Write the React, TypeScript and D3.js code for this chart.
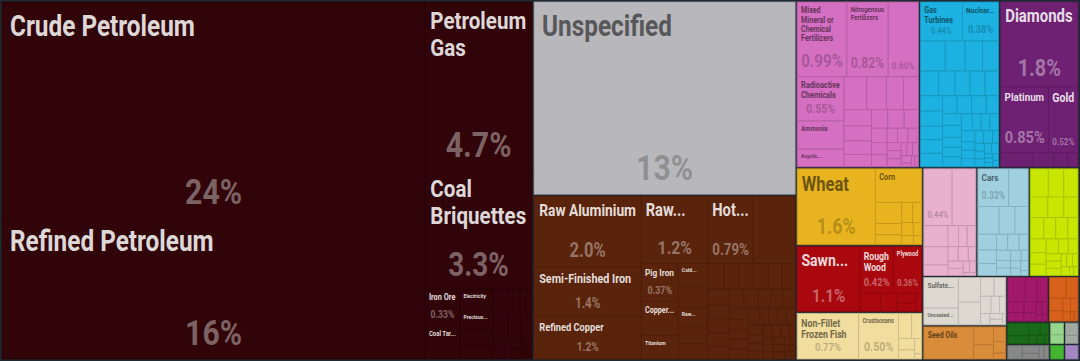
import React, { useMemo } from 'react';
import * as d3 from 'd3';

// ---------- DATA (share of total exports, %) ----------
const sectorNames = [
  'Mineral Products', 'Unspecified', 'Metals', 'Chemical Products', 'Machines', 'Precious Metals',
  'Vegetable Products', 'Wood Products', 'Animal Products', 'Plastics and Rubbers', 'Transportation',
  'Textiles', 'Paper Goods', 'Animal and Vegetable Bi-Products', 'Foodstuffs', 'Stone And Glass',
  'Instruments', 'Miscellaneous', 'Arms and Ammunition', 'Footwear and Headwear', 'Animal Hides', 'Art and Antiques',
];

const mineralNames = ['Crude Petroleum', 'Refined Petroleum', 'Petroleum Gas', 'Coal Briquettes', 'Iron Ore', 'Coal Tar...', 'Electricity', 'Precious...'];
const mineralShares = [23.8, 15.6, 4.7, 3.3, 0.33, 0.3, 0.18, 0.17];
const mineralOther = [0.14, 0.12, 0.11, 0.1, 0.09, 0.08, 0.07, 0.06, 0.05, 0.04, 0.03, 0.03, 0.02, 0.02, 0.01];

const unspecifiedNames = ['Unspecified'];
const unspecifiedShares = [13.2];
const unspecifiedOther: number[] = [];

const metalNames = ['Raw Aluminium', 'Semi-Finished Iron', 'Refined Copper', 'Raw...', 'Hot...', 'Pig Iron', 'Copper...', 'Titanium', 'Cold...', 'Flat Flat...', 'Raw...'];
const metalShares = [2.0, 1.4, 1.2, 1.19, 0.79, 0.37, 0.33, 0.23, 0.18, 0.16, 0.15];
const metalOther = [0.75, 0.13, 0.12, 0.11, 0.1, 0.1, 0.1, 0.09, 0.09, 0.09, 0.08, 0.08, 0.08, 0.07, 0.07, 0.07, 0.06, 0.06, 0.06, 0.06, 0.05, 0.05, 0.05, 0.05, 0.05, 0.04, 0.04, 0.04, 0.04, 0.04, 0.03, 0.03, 0.03, 0.03, 0.03, 0.03, 0.02, 0.02, 0.02, 0.02, 0.02, 0.02, 0.02, 0.01, 0.01, 0.01, 0.01, 0.01, 0.01];

const chemicalNames = ['Mixed Mineral or Chemical Fertilizers', 'Nitrogenous Fertilizers', 'Potassic Fertilizers', 'Radioactive Chemicals', 'Ammonia', 'Acyclic...'];
const chemicalShares = [0.99, 0.82, 0.6, 0.55, 0.35, 0.22];
const chemicalOther = [0.2, 0.17, 0.15, 0.13, 0.12, 0.11, 0.1, 0.09, 0.08, 0.08, 0.07, 0.06, 0.05, 0.05, 0.04, 0.04, 0.04, 0.03, 0.03, 0.03, 0.02, 0.02, 0.02, 0.02, 0.01, 0.01, 0.01];

const machineNames = ['Gas Turbines', 'Nuclear...'];
const machineShares = [0.44, 0.38];
const machineOther = [0.2, 0.16, 0.14, 0.13, 0.12, 0.11, 0.1, 0.1, 0.09, 0.09, 0.09, 0.08, 0.08, 0.08, 0.07, 0.07, 0.07, 0.06, 0.06, 0.06, 0.05, 0.05, 0.05, 0.05, 0.04, 0.04, 0.04, 0.04, 0.03, 0.03, 0.03, 0.03, 0.03, 0.02, 0.02, 0.02, 0.02, 0.02, 0.02, 0.01, 0.01, 0.01, 0.01, 0.01];

const preciousNames = ['Diamonds', 'Platinum', 'Gold'];
const preciousShares = [1.76, 0.85, 0.52];
const preciousOther = [0.12, 0.08, 0.05, 0.04];

const vegetableNames = ['Wheat', 'Corn'];
const vegetableShares = [1.6, 0.42];
const vegetableOther = [0.15, 0.08, 0.07, 0.06, 0.05, 0.04, 0.03, 0.03, 0.02];

const woodNames = ['Sawn...', 'Rough Wood', 'Plywood'];
const woodShares = [1.1, 0.42, 0.36];
const woodOther = [0.1, 0.08, 0.05, 0.04, 0.03];

const animalNames = ['Non-Fillet Frozen Fish', 'Crustaceans'];
const animalShares = [0.77, 0.5];
const animalOther = [0.09, 0.07, 0.05, 0.04, 0.03, 0.01];

const plasticNames = ['Synthetic Rubber'];
const plasticShares = [0.44];
const plasticOther = [0.37, 0.14, 0.12, 0.07, 0.06, 0.05, 0.05, 0.04, 0.04, 0.03, 0.03, 0.03, 0.02, 0.02, 0.01];

const transportNames = ['Cars'];
const transportShares = [0.32];
const transportOther = [0.2, 0.16, 0.12, 0.1, 0.08, 0.07, 0.06, 0.05, 0.05, 0.04, 0.04, 0.03, 0.03, 0.03, 0.02, 0.02, 0.02, 0.02, 0.01];

const textileNames: string[] = [];
const textileShares: number[] = [];
const textileOther = [0.14, 0.12, 0.11, 0.1, 0.09, 0.08, 0.08, 0.07, 0.07, 0.06, 0.06, 0.05, 0.05, 0.05, 0.04, 0.04, 0.03, 0.03, 0.03, 0.02, 0.02, 0.02, 0.02, 0.01, 0.01];

const paperNames = ['Sulfate...', 'Uncoated...'];
const paperShares = [0.29, 0.16];
const paperOther = [0.15, 0.14, 0.07, 0.06, 0.05, 0.04, 0.03, 0.03, 0.02, 0.02, 0.01];

const biProductNames = ['Seed Oils'];
const biProductShares = [0.45];
const biProductOther = [0.1, 0.08, 0.05, 0.04, 0.02];

const foodOther = [0.12, 0.08, 0.07, 0.05, 0.04, 0.04, 0.03, 0.02, 0.02, 0.01, 0.01];
const stoneOther = [0.1, 0.07, 0.05, 0.04, 0.03, 0.03, 0.02, 0.01, 0.01];
const instrumentOther = [0.08, 0.05, 0.04, 0.03, 0.02, 0.02, 0.01];
const miscOther = [0.06, 0.04, 0.03, 0.02, 0.02];
const armsOther = [0.05, 0.036];
const footwearOther = [0.05, 0.033];
const hidesOther = [0.06];
const artOther = [0.058];

const sectorItems: [string[], number[], number[]][] = [
  [mineralNames, mineralShares, mineralOther],
  [unspecifiedNames, unspecifiedShares, unspecifiedOther],
  [metalNames, metalShares, metalOther],
  [chemicalNames, chemicalShares, chemicalOther],
  [machineNames, machineShares, machineOther],
  [preciousNames, preciousShares, preciousOther],
  [vegetableNames, vegetableShares, vegetableOther],
  [woodNames, woodShares, woodOther],
  [animalNames, animalShares, animalOther],
  [plasticNames, plasticShares, plasticOther],
  [transportNames, transportShares, transportOther],
  [textileNames, textileShares, textileOther],
  [paperNames, paperShares, paperOther],
  [biProductNames, biProductShares, biProductOther],
  [[], [], foodOther],
  [[], [], stoneOther],
  [[], [], instrumentOther],
  [[], [], miscOther],
  [[], [], armsOther],
  [[], [], footwearOther],
  [[], [], hidesOther],
  [[], [], artOther],
];

// ---------- STYLES ----------
const SECTOR_COLORS: Record<string, string> = {
  'Mineral Products': '#300408',
  'Unspecified': '#b8b8bc',
  'Metals': '#5a230b',
  'Chemical Products': '#d56fc1',
  'Machines': '#1cb1e0',
  'Precious Metals': '#6e2172',
  'Vegetable Products': '#e7b420',
  'Wood Products': '#a8080e',
  'Animal Products': '#f1dd9d',
  'Plastics and Rubbers': '#e8b1cd',
  'Transportation': '#a0d0e0',
  'Textiles': '#c8e700',
  'Paper Goods': '#ddd9d1',
  'Animal and Vegetable Bi-Products': '#d98c3a',
  'Foodstuffs': '#a2196a',
  'Stone And Glass': '#d8611b',
  'Instruments': '#196a19',
  'Miscellaneous': '#888888',
  'Arms and Ammunition': '#95d68a',
  'Footwear and Headwear': '#a0aaa0',
  'Animal Hides': '#43b532',
  'Art and Antiques': '#a287c2',
};

const W = 1080;
const H = 361;
const BG = '#1f2932';
const FONT = 'Roboto, "Noto Sans", sans-serif';
const SX = 0.84; // horizontal condensing of the label font
const MIN_SINGLE = 6;
const MIN_MULTI = 7;

let _ctx: CanvasRenderingContext2D | null = null;
function measure(text: string, fs: number): number {
  if (!_ctx) _ctx = document.createElement('canvas').getContext('2d');
  if (!_ctx) return text.length * fs * 0.5 * SX;
  _ctx.font = `700 ${fs}px ${FONT}`;
  return _ctx.measureText(text).width * SX;
}

function wrap(name: string, fs: number, maxW: number): string[] | null {
  const words = name.split(/\s+/);
  const lines: string[] = [];
  let cur = '';
  for (const w of words) {
    if (measure(w, fs) > maxW) return null;
    const t = cur ? cur + ' ' + w : w;
    if (measure(t, fs) <= maxW) cur = t;
    else { lines.push(cur); cur = w; }
  }
  if (cur) lines.push(cur);
  return lines;
}

function fmtShare(v: number): string {
  if (v >= 10) return `${Math.round(v)}%`;
  if (v >= 1) return `${v.toFixed(1)}%`;
  return `${v.toFixed(2)}%`;
}

function isLight(c: string): boolean {
  const r = d3.rgb(c);
  return 0.299 * r.r + 0.587 * r.g + 0.114 * r.b > 128;
}

type Label = {
  pad: number;
  title: { fs: number; lines: string[] } | null;
  pct: { fs: number; text: string; pb: number } | null;
};

function fitTitle(name: string, w: number, h: number, pad: number) {
  const maxW = w - 2 * pad;
  const maxH = h * 0.5;
  const cap = Math.min(29, Math.max(MIN_SINGLE, h * 0.26));
  let single: { fs: number; lines: string[] } | null = null;
  for (let fs = cap; fs >= MIN_SINGLE; fs -= 0.25) {
    if (measure(name, fs) <= maxW && fs * 1.1 <= Math.max(maxH, 11)) { single = { fs, lines: [name] }; break; }
  }
  let multi: { fs: number; lines: string[] } | null = null;
  for (let fs = cap; fs >= MIN_MULTI; fs -= 0.25) {
    const lines = wrap(name, fs, maxW);
    if (lines && lines.length > 1 && lines.length * fs * 1.1 <= maxH) { multi = { fs, lines }; break; }
  }
  if (single && (!multi || multi.fs <= single.fs * 1.2)) return single;
  return multi;
}

function layoutLabel(name: string, share: number, w: number, h: number): Label {
  const pad = Math.max(3, Math.min(8, w * 0.02 + 3));
  let pct: Label['pct'] = null;
  if (!name) return { pad, title: null, pct };
  const title = fitTitle(name, w, h, pad);
  if (h < 35.5) return { pad, title, pct };
  const maxW = w - 2 * pad;
  const text = fmtShare(share);
  const titleBottom = title ? pad + title.lines.length * title.fs * 1.1 : pad;
  let fs = Math.min(36, h * 0.28, maxW / (measure(text, 100) / 100));
  while (fs >= 6) {
    const pb = fs * 0.25 + 5;
    if (h - pb - fs * 0.75 >= titleBottom + 2) break;
    fs -= 0.5;
  }
  if (fs >= 6) pct = { fs, text, pb: fs * 0.25 + 5 };
  return { pad, title, pct };
}

export default function App() {
  const { leaves, total } = useMemo(() => {
    const data = {
      name: 'root',
      children: sectorNames.map((s, i) => {
        const [names, shares, other] = sectorItems[i];
        return {
          name: s,
          children: [
            ...names.map((n, j) => ({ name: n, value: shares[j] })),
            ...other.map((v) => ({ name: '', value: v })),
          ],
        };
      }),
    };
    const root = d3
      .hierarchy<any>(data)
      .sum((d: any) => d.value || 0)
      .sort((a, b) => (b.value as number) - (a.value as number));
    d3.treemap<any>()
      .tile(d3.treemapSquarify)
      .size([W, H])
      .paddingOuter((n) => (n.depth === 0 ? 2 : 0))
      .paddingInner((n) => (n.depth === 0 ? 2 : 0))(root);
    return { leaves: root.leaves() as d3.HierarchyRectangularNode<any>[], total: root.value as number };
  }, []);

  return (
    <svg width={W} height={H} style={{ position: 'absolute', left: 0, top: 0, display: 'block' }} fontFamily={FONT}>
      <rect x={0} y={0} width={W} height={H} fill={BG} />
      {leaves.map((d, i) => {
        const color = SECTOR_COLORS[d.parent!.data.name];
        const w = d.x1 - d.x0;
        const h = d.y1 - d.y0;
        return (
          <rect
            key={`r${i}`}
            x={d.x0}
            y={d.y0}
            width={Math.max(0, w)}
            height={Math.max(0, h)}
            fill={color}
            stroke={d3.color(color)!.darker(0.45).formatHex()}
            strokeWidth={0.8}
          />
        );
      })}
      {leaves.map((d, i) => {
        const color = SECTOR_COLORS[d.parent!.data.name];
        const w = d.x1 - d.x0;
        const h = d.y1 - d.y0;
        const share = ((d.value as number) / total) * 100;
        const lab = layoutLabel(d.data.name, share, w, h);
        const light = isLight(color);
        const txt = light ? d3.color(color)!.darker(2.1).formatHex() : '#ffffff';
        const titleOpacity = light ? 1 : 0.86;
        const pctOpacity = light ? 0.42 : 0.38;
        return (
          <g key={`l${i}`}>
            {lab.title &&
              lab.title.lines.map((line, k) => (
                <text
                  key={k}
                  transform={`translate(${d.x0 + lab.pad},${d.y0 + lab.pad + lab.title!.fs * 0.88 + k * lab.title!.fs * 1.1}) scale(${SX},1)`}
                  fontSize={lab.title!.fs}
                  fontWeight={700}
                  fill={txt}
                  fillOpacity={titleOpacity}
                >
                  {line}
                </text>
              ))}
            {lab.pct && (
              <text
                transform={`translate(${(d.x0 + d.x1) / 2},${d.y1 - lab.pct.pb}) scale(${SX},1)`}
                textAnchor="middle"
                fontSize={lab.pct.fs}
                fontWeight={700}
                fill={txt}
                fillOpacity={pctOpacity}
              >
                {lab.pct.text}
              </text>
            )}
          </g>
        );
      })}
    </svg>
  );
}
